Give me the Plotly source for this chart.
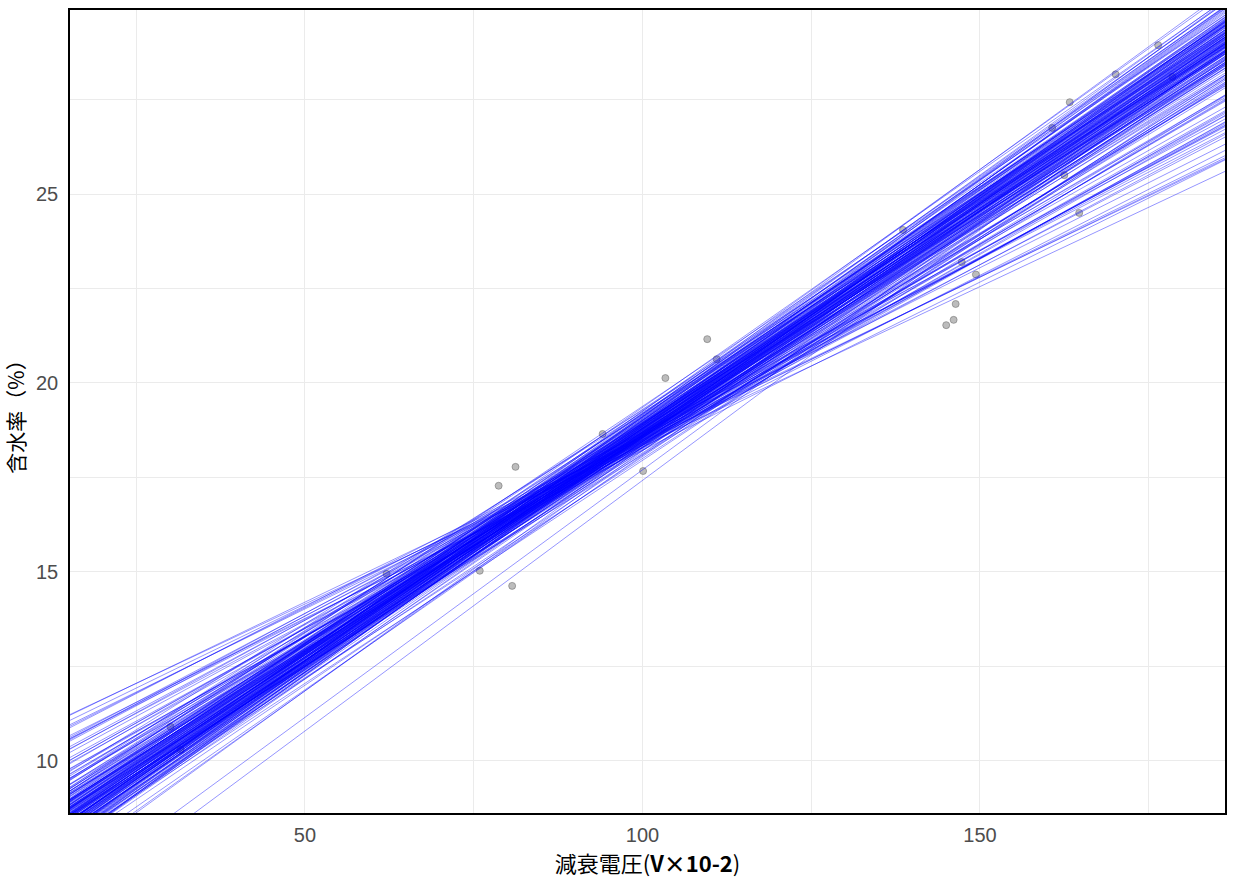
import plotly.graph_objects as go

# observed points (decay voltage vs moisture content)
pt_x = [30.1, 31.6, 62.1, 75.9, 78.7, 80.7, 81.2, 94.1, 100.1, 103.4, 109.6, 111.0,
        138.6, 145.0, 146.1, 146.4, 147.3, 149.4, 160.7, 162.5, 163.3, 164.7, 170.1, 176.4, 178.5]
pt_y = [10.9, 10.29, 14.95, 15.03, 17.28, 14.63, 17.78, 18.65, 17.67, 20.13, 21.16, 20.63,
        24.05, 21.53, 21.67, 22.09, 23.2, 22.87, 26.75, 25.5, 27.43, 24.5, 28.17, 28.94, 28.1]

# bootstrap regression lines: slopes and intercepts
slopes = [0.118, 0.121, 0.115, 0.124, 0.112, 0.119, 0.122, 0.116, 0.126, 0.113,
          0.120, 0.117, 0.123, 0.110, 0.125, 0.119, 0.114, 0.121, 0.127, 0.116,
          0.118, 0.122, 0.111, 0.124, 0.115, 0.120, 0.117, 0.128, 0.113, 0.119,
          0.123, 0.109, 0.121, 0.116, 0.125, 0.118, 0.112, 0.120, 0.126, 0.114,
          0.122, 0.117, 0.119, 0.124, 0.110, 0.121, 0.115, 0.127, 0.118, 0.123,
          0.113, 0.120, 0.116, 0.129, 0.111, 0.119, 0.122, 0.117, 0.125, 0.114,
          0.121, 0.118, 0.108, 0.124, 0.116, 0.120, 0.126, 0.112, 0.119, 0.123,
          0.115, 0.130, 0.117, 0.121, 0.110, 0.118, 0.124, 0.113, 0.122, 0.116,
          0.127, 0.119, 0.120, 0.114, 0.125, 0.117, 0.121, 0.112, 0.123, 0.118,
          0.128, 0.115, 0.120, 0.109, 0.122, 0.116, 0.126, 0.119, 0.113, 0.124,
          0.118, 0.122, 0.125, 0.128, 0.120, 0.115, 0.112, 0.126, 0.130, 0.117,
          0.121, 0.116, 0.119, 0.124, 0.113, 0.110, 0.127, 0.118, 0.122, 0.114,
          0.120, 0.118, 0.121, 0.123, 0.117, 0.125, 0.119, 0.122, 0.116, 0.124,
          0.120, 0.126, 0.118, 0.121, 0.123, 0.115, 0.119, 0.127, 0.117, 0.122,
          0.120, 0.124, 0.118, 0.121, 0.125, 0.119, 0.116, 0.123, 0.128, 0.120,
          0.117, 0.122, 0.126, 0.114, 0.119, 0.123, 0.121, 0.118, 0.125, 0.116,
          0.084, 0.086, 0.088, 0.090, 0.091, 0.093, 0.094, 0.095, 0.096, 0.097,
          0.098, 0.099, 0.100, 0.101, 0.102, 0.103, 0.104, 0.105, 0.106, 0.107,
          0.092, 0.089, 0.100, 0.103, 0.096, 0.087, 0.095, 0.098, 0.101, 0.105,
          0.108,
          0.1326, 0.131, 0.129]
intercepts = [6.82, 6.60, 7.05, 6.41, 7.28, 7.03, 6.24, 7.17, 6.35, 7.39,
              6.58, 6.65, 6.75, 7.60, 6.16, 6.60, 7.48, 6.87, 5.92, 6.82,
              7.03, 6.41, 7.28, 6.14, 7.52, 6.79, 6.96, 6.30, 7.22, 6.81,
              6.18, 7.84, 6.76, 6.99, 6.40, 6.65, 7.61, 7.12, 5.98, 7.24,
              6.56, 7.23, 6.40, 6.29, 7.45, 6.43, 7.22, 6.30, 6.77, 6.54,
              7.66, 6.40, 7.08, 5.90, 7.52, 7.15, 6.15, 6.80, 6.26, 6.81,
              6.54, 7.18, 7.75, 6.52, 6.73, 6.67, 6.58, 7.46, 6.69, 6.33,
              7.37, 5.88, 7.08, 6.36, 7.93, 6.91, 5.96, 7.27, 6.88, 6.92,
              5.92, 6.95, 6.55, 7.75, 6.05, 6.90, 6.70, 7.05, 6.43, 6.58,
              6.05, 6.98, 6.90, 7.50, 6.48, 7.35, 6.12, 6.54, 7.48, 6.85,
              7.50, 7.00, 6.85, 6.45, 7.38, 7.78, 8.02, 6.50, 6.15, 7.48,
              5.95, 6.40, 6.22, 5.68, 6.85, 7.10, 5.50, 6.15, 6.08, 6.82,
              6.75, 6.85, 6.80, 6.65, 7.15, 6.50, 6.88, 6.62, 7.14, 6.46,
              6.62, 6.20, 7.12, 6.60, 6.72, 7.30, 7.10, 6.20, 7.00, 6.35,
              7.18, 6.35, 7.00, 7.00, 6.20, 6.76, 7.30, 6.28, 6.22, 6.84,
              6.75, 6.73, 6.05, 7.15, 6.98, 6.48, 6.48, 7.28, 6.62, 7.02,
              9.95, 9.90, 9.62, 9.55, 9.20, 9.18, 9.20, 8.88, 8.92, 8.75,
              8.82, 8.45, 8.50, 8.48, 8.20, 8.36, 8.08, 8.05, 7.76, 7.92,
              9.48, 9.32, 8.28, 7.98, 9.10, 9.75, 9.08, 8.60, 8.25, 7.92,
              7.50,
              4.16, 4.60, 5.40]

x_range = [15.2, 186.3]
y_range = [8.62, 29.87]
x_ticks = [50, 100, 150]
y_ticks = [10, 15, 20, 25]

fig = go.Figure()

fig.add_trace(go.Scatter(
    x=pt_x, y=pt_y, mode="markers",
    marker=dict(size=7, color="rgba(165,165,165,0.75)",
                line=dict(color="rgba(110,110,110,0.8)", width=0.7)),
    showlegend=False, hoverinfo="skip"))

line_x = [0, 200]
for b, s in zip(intercepts, slopes):
    fig.add_trace(go.Scatter(
        x=line_x, y=[b + s * xv for xv in line_x], mode="lines",
        line=dict(color="rgba(0,0,255,0.6)", width=0.7),
        showlegend=False, hoverinfo="skip"))

grid = "#EBEBEB"
fig.update_layout(
    width=1235, height=882,
    margin=dict(l=70, r=10, t=10, b=69),
    plot_bgcolor="white", paper_bgcolor="white",
    font=dict(family="Liberation Sans, Arial, sans-serif", size=20, color="#4D4D4D"),
    xaxis=dict(
        range=x_range, tickvals=x_ticks, showgrid=True, gridcolor=grid, gridwidth=1,
        minor=dict(dtick=25, tick0=0, showgrid=True, gridcolor=grid, gridwidth=1),
        showline=True, linecolor="black", linewidth=1.5, mirror=True,
        zeroline=False, ticks="", ticklen=0, automargin=False, ticklabelstandoff=3,
        title=dict(text="減衰電圧(<b>V×10-2</b>)", standoff=4,
                   font=dict(family="Noto Sans CJK JP, Liberation Sans", size=22, color="black"))),
    yaxis=dict(
        range=y_range, tickvals=y_ticks, showgrid=True, gridcolor=grid, gridwidth=1,
        minor=dict(dtick=2.5, tick0=0, showgrid=True, gridcolor=grid, gridwidth=1),
        showline=True, linecolor="black", linewidth=1.5, mirror=True,
        zeroline=False, ticks="", ticklen=0, automargin=False, ticklabelstandoff=6,
        title=dict(text="含水率（%）", standoff=8,
                   font=dict(family="Noto Sans CJK JP, Liberation Sans", size=21, color="black"))),
)

fig.write_html(
    "out.html",
    config={"displayModeBar": False},
    post_script="document.body.style.margin='0';document.body.style.overflow='hidden';",
)
